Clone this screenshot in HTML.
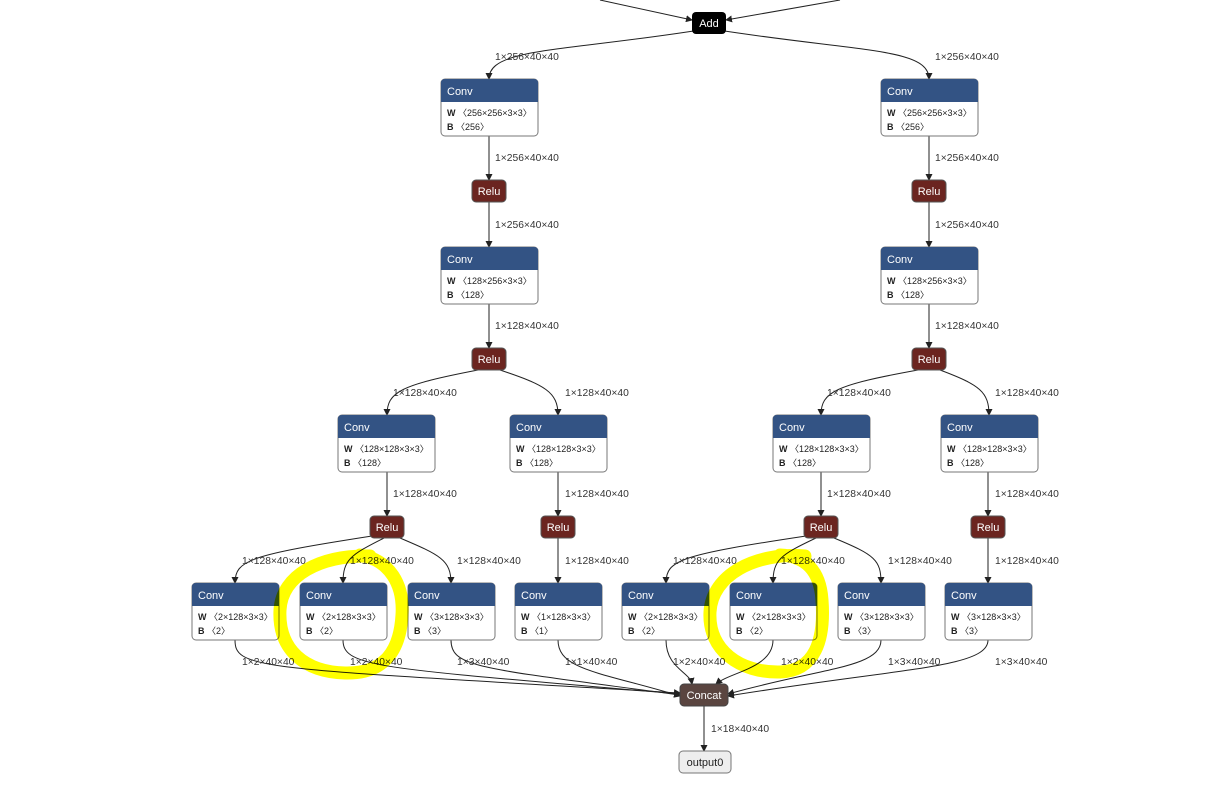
<!DOCTYPE html>
<html><head><meta charset="utf-8"><style>
body{margin:0;background:#fff;width:1210px;height:807px;overflow:hidden}
svg{font-family:"Liberation Sans",sans-serif}
.e{fill:none;stroke:#222;stroke-width:1}
.l{font-size:10.3px;fill:#333}
.h{font-size:11px;fill:#fff}
.t{font-size:9px;fill:#222}
.b{font-weight:bold}
</style></head><body>
<svg width="1210" height="807" xmlns="http://www.w3.org/2000/svg">
<defs><marker id="a" markerWidth="7" markerHeight="7" refX="6" refY="3.5" orient="auto" markerUnits="userSpaceOnUse"><path d="M0,0 L7,3.5 L0,7 Z" fill="#222"/></marker></defs>
<g class="e" marker-end="url(#a)">
<path d="M600 0 L692 20"/><path d="M840 0 L726 20"/>
<path d="M700 30 C560 52,489 48,489 79"/><path d="M718 30 C860 52,929 48,929 79"/>
<path d="M489 136 L489 180"/><path d="M489 202 L489 247"/><path d="M489 304 L489 348"/>
<path d="M929 136 L929 180"/><path d="M929 202 L929 247"/><path d="M929 304 L929 348"/>
<path d="M478 370 C400 385,387 392,387 415"/><path d="M500 370 C545 385,558 392,558 415"/>
<path d="M918 370 C835 385,821 392,821 415"/><path d="M940 370 C980 385,989 392,989 415"/>
<path d="M387 472 L387 516"/><path d="M558 472 L558 516"/><path d="M821 472 L821 516"/><path d="M988 472 L988 516"/>
<path d="M372 536 C250 555,235 560,235 583"/><path d="M384 538 C350 555,343 560,343 583"/><path d="M400 538 C440 555,451 560,451 583"/>
<path d="M558 538 L558 583"/><path d="M988 538 L988 583"/>
<path d="M806 536 C680 555,666 560,666 583"/><path d="M816 538 C780 555,773 560,773 583"/><path d="M834 538 C875 555,881 560,881 583"/>
<path d="M235 640 C235 670,260 668,680 693"/><path d="M343 640 C343 668,380 668,680 694"/><path d="M451 640 C451 668,480 668,680 695"/><path d="M558 640 C558 670,600 672,680 696"/>
<path d="M666 640 C666 668,690 672,692 684"/><path d="M773 640 C773 668,730 672,716 684"/>
<path d="M881 640 C881 668,820 668,728 694"/><path d="M988 640 C988 668,900 668,728 696"/>
<path d="M704 706 L704 751"/>
</g>
<g class="l">
<text x="495" y="60">1×256×40×40</text><text x="935" y="60">1×256×40×40</text>
<text x="495" y="161">1×256×40×40</text><text x="935" y="161">1×256×40×40</text>
<text x="495" y="228">1×256×40×40</text><text x="935" y="228">1×256×40×40</text>
<text x="495" y="329">1×128×40×40</text><text x="935" y="329">1×128×40×40</text>
<text x="393" y="396">1×128×40×40</text><text x="565" y="396">1×128×40×40</text>
<text x="827" y="396">1×128×40×40</text><text x="995" y="396">1×128×40×40</text>
<text x="393" y="497">1×128×40×40</text><text x="565" y="497">1×128×40×40</text>
<text x="827" y="497">1×128×40×40</text><text x="995" y="497">1×128×40×40</text>
<text x="242" y="564">1×128×40×40</text><text x="350" y="564">1×128×40×40</text><text x="457" y="564">1×128×40×40</text><text x="565" y="564">1×128×40×40</text>
<text x="673" y="564">1×128×40×40</text><text x="781" y="564">1×128×40×40</text><text x="888" y="564">1×128×40×40</text><text x="995" y="564">1×128×40×40</text>
<text x="242" y="665">1×2×40×40</text><text x="350" y="665">1×2×40×40</text><text x="457" y="665">1×3×40×40</text><text x="565" y="665">1×1×40×40</text>
<text x="673" y="665">1×2×40×40</text><text x="781" y="665">1×2×40×40</text><text x="888" y="665">1×3×40×40</text><text x="995" y="665">1×3×40×40</text>
<text x="711" y="732">1×18×40×40</text>
</g>
<rect x="692" y="12" width="34" height="22" rx="4" fill="#000"/><text class="h" x="709" y="27" text-anchor="middle">Add</text>
<g fill="#6b2520" stroke="#555">
<rect x="472" y="180" width="34" height="22" rx="4"/><rect x="912" y="180" width="34" height="22" rx="4"/>
<rect x="472" y="348" width="34" height="22" rx="4"/><rect x="912" y="348" width="34" height="22" rx="4"/>
<rect x="370" y="516" width="34" height="22" rx="4"/><rect x="541" y="516" width="34" height="22" rx="4"/>
<rect x="804" y="516" width="34" height="22" rx="4"/><rect x="971" y="516" width="34" height="22" rx="4"/>
</g>
<g class="h" text-anchor="middle">
<text x="489" y="195">Relu</text><text x="929" y="195">Relu</text><text x="489" y="363">Relu</text><text x="929" y="363">Relu</text>
<text x="387" y="531">Relu</text><text x="558" y="531">Relu</text><text x="821" y="531">Relu</text><text x="988" y="531">Relu</text>
</g>
<rect x="680" y="684" width="48" height="22" rx="4" fill="#5a4540" stroke="#444"/><text class="h" x="704" y="699" text-anchor="middle">Concat</text>
<rect x="679" y="751" width="52" height="22" rx="4" fill="#eee" stroke="#777"/><text x="705" y="766" text-anchor="middle" style="font-size:11px;fill:#222">output0</text>
<g>
<g transform="translate(441,79)"><rect width="97" height="57" rx="4" fill="#fff" stroke="#777"/><path d="M0 23 V4 Q0 0 4 0 H93 Q97 0 97 4 V23 Z" fill="#335384"/><text class="h" x="6" y="16">Conv</text><text class="t" x="6" y="37"><tspan class="b">W</tspan> 〈256×256×3×3〉</text><text class="t" x="6" y="51"><tspan class="b">B</tspan> 〈256〉</text></g>
<g transform="translate(881,79)"><rect width="97" height="57" rx="4" fill="#fff" stroke="#777"/><path d="M0 23 V4 Q0 0 4 0 H93 Q97 0 97 4 V23 Z" fill="#335384"/><text class="h" x="6" y="16">Conv</text><text class="t" x="6" y="37"><tspan class="b">W</tspan> 〈256×256×3×3〉</text><text class="t" x="6" y="51"><tspan class="b">B</tspan> 〈256〉</text></g>
<g transform="translate(441,247)"><rect width="97" height="57" rx="4" fill="#fff" stroke="#777"/><path d="M0 23 V4 Q0 0 4 0 H93 Q97 0 97 4 V23 Z" fill="#335384"/><text class="h" x="6" y="16">Conv</text><text class="t" x="6" y="37"><tspan class="b">W</tspan> 〈128×256×3×3〉</text><text class="t" x="6" y="51"><tspan class="b">B</tspan> 〈128〉</text></g>
<g transform="translate(881,247)"><rect width="97" height="57" rx="4" fill="#fff" stroke="#777"/><path d="M0 23 V4 Q0 0 4 0 H93 Q97 0 97 4 V23 Z" fill="#335384"/><text class="h" x="6" y="16">Conv</text><text class="t" x="6" y="37"><tspan class="b">W</tspan> 〈128×256×3×3〉</text><text class="t" x="6" y="51"><tspan class="b">B</tspan> 〈128〉</text></g>
<g transform="translate(338,415)"><rect width="97" height="57" rx="4" fill="#fff" stroke="#777"/><path d="M0 23 V4 Q0 0 4 0 H93 Q97 0 97 4 V23 Z" fill="#335384"/><text class="h" x="6" y="16">Conv</text><text class="t" x="6" y="37"><tspan class="b">W</tspan> 〈128×128×3×3〉</text><text class="t" x="6" y="51"><tspan class="b">B</tspan> 〈128〉</text></g>
<g transform="translate(510,415)"><rect width="97" height="57" rx="4" fill="#fff" stroke="#777"/><path d="M0 23 V4 Q0 0 4 0 H93 Q97 0 97 4 V23 Z" fill="#335384"/><text class="h" x="6" y="16">Conv</text><text class="t" x="6" y="37"><tspan class="b">W</tspan> 〈128×128×3×3〉</text><text class="t" x="6" y="51"><tspan class="b">B</tspan> 〈128〉</text></g>
<g transform="translate(773,415)"><rect width="97" height="57" rx="4" fill="#fff" stroke="#777"/><path d="M0 23 V4 Q0 0 4 0 H93 Q97 0 97 4 V23 Z" fill="#335384"/><text class="h" x="6" y="16">Conv</text><text class="t" x="6" y="37"><tspan class="b">W</tspan> 〈128×128×3×3〉</text><text class="t" x="6" y="51"><tspan class="b">B</tspan> 〈128〉</text></g>
<g transform="translate(941,415)"><rect width="97" height="57" rx="4" fill="#fff" stroke="#777"/><path d="M0 23 V4 Q0 0 4 0 H93 Q97 0 97 4 V23 Z" fill="#335384"/><text class="h" x="6" y="16">Conv</text><text class="t" x="6" y="37"><tspan class="b">W</tspan> 〈128×128×3×3〉</text><text class="t" x="6" y="51"><tspan class="b">B</tspan> 〈128〉</text></g>
<g transform="translate(192,583)"><rect width="87" height="57" rx="4" fill="#fff" stroke="#777"/><path d="M0 23 V4 Q0 0 4 0 H83 Q87 0 87 4 V23 Z" fill="#335384"/><text class="h" x="6" y="16">Conv</text><text class="t" x="6" y="37"><tspan class="b">W</tspan> 〈2×128×3×3〉</text><text class="t" x="6" y="51"><tspan class="b">B</tspan> 〈2〉</text></g>
<g transform="translate(300,583)"><rect width="87" height="57" rx="4" fill="#fff" stroke="#777"/><path d="M0 23 V4 Q0 0 4 0 H83 Q87 0 87 4 V23 Z" fill="#335384"/><text class="h" x="6" y="16">Conv</text><text class="t" x="6" y="37"><tspan class="b">W</tspan> 〈2×128×3×3〉</text><text class="t" x="6" y="51"><tspan class="b">B</tspan> 〈2〉</text></g>
<g transform="translate(408,583)"><rect width="87" height="57" rx="4" fill="#fff" stroke="#777"/><path d="M0 23 V4 Q0 0 4 0 H83 Q87 0 87 4 V23 Z" fill="#335384"/><text class="h" x="6" y="16">Conv</text><text class="t" x="6" y="37"><tspan class="b">W</tspan> 〈3×128×3×3〉</text><text class="t" x="6" y="51"><tspan class="b">B</tspan> 〈3〉</text></g>
<g transform="translate(515,583)"><rect width="87" height="57" rx="4" fill="#fff" stroke="#777"/><path d="M0 23 V4 Q0 0 4 0 H83 Q87 0 87 4 V23 Z" fill="#335384"/><text class="h" x="6" y="16">Conv</text><text class="t" x="6" y="37"><tspan class="b">W</tspan> 〈1×128×3×3〉</text><text class="t" x="6" y="51"><tspan class="b">B</tspan> 〈1〉</text></g>
<g transform="translate(622,583)"><rect width="87" height="57" rx="4" fill="#fff" stroke="#777"/><path d="M0 23 V4 Q0 0 4 0 H83 Q87 0 87 4 V23 Z" fill="#335384"/><text class="h" x="6" y="16">Conv</text><text class="t" x="6" y="37"><tspan class="b">W</tspan> 〈2×128×3×3〉</text><text class="t" x="6" y="51"><tspan class="b">B</tspan> 〈2〉</text></g>
<g transform="translate(730,583)"><rect width="87" height="57" rx="4" fill="#fff" stroke="#777"/><path d="M0 23 V4 Q0 0 4 0 H83 Q87 0 87 4 V23 Z" fill="#335384"/><text class="h" x="6" y="16">Conv</text><text class="t" x="6" y="37"><tspan class="b">W</tspan> 〈2×128×3×3〉</text><text class="t" x="6" y="51"><tspan class="b">B</tspan> 〈2〉</text></g>
<g transform="translate(838,583)"><rect width="87" height="57" rx="4" fill="#fff" stroke="#777"/><path d="M0 23 V4 Q0 0 4 0 H83 Q87 0 87 4 V23 Z" fill="#335384"/><text class="h" x="6" y="16">Conv</text><text class="t" x="6" y="37"><tspan class="b">W</tspan> 〈3×128×3×3〉</text><text class="t" x="6" y="51"><tspan class="b">B</tspan> 〈3〉</text></g>
<g transform="translate(945,583)"><rect width="87" height="57" rx="4" fill="#fff" stroke="#777"/><path d="M0 23 V4 Q0 0 4 0 H83 Q87 0 87 4 V23 Z" fill="#335384"/><text class="h" x="6" y="16">Conv</text><text class="t" x="6" y="37"><tspan class="b">W</tspan> 〈3×128×3×3〉</text><text class="t" x="6" y="51"><tspan class="b">B</tspan> 〈3〉</text></g>
</g>
<g fill="none" stroke="#ffff00" stroke-width="13" stroke-linecap="round" style="mix-blend-mode:multiply">
<path d="M370 556 C320 555,282 575,280 610 C278 650,305 672,345 673 C385 674,400 650,402 615 C404 585,390 560,360 555"/>
<path d="M805 556 C755 552,712 575,710 612 C708 650,740 673,780 672 C815 671,825 640,822 600 C820 570,805 556,780 555"/>
</g>
</svg>
</body></html>
